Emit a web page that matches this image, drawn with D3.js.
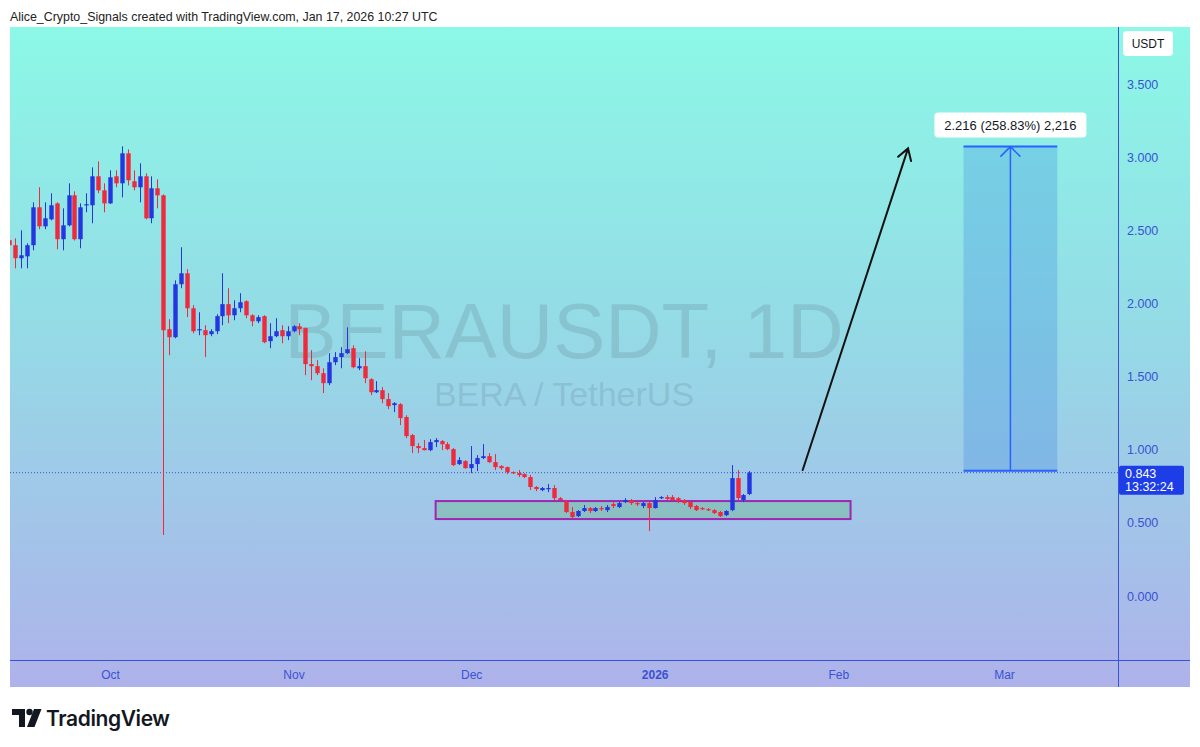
<!DOCTYPE html>
<html>
<head>
<meta charset="utf-8">
<script src="https://cdn.jsdelivr.net/npm/d3@7"></script>
<style>
  body { margin: 0; background: #fff; }
  svg { display: block; font-family: "Liberation Sans", Arial, sans-serif; }
</style>
</head>
<body>
<svg width="1200" height="747"></svg>
<script>
(function() {
  // daily candles, first one is 2025-09-14
  const firstDay = Date.UTC(2025, 8, 14);
  const opens = [
    2.432, 2.398, 2.309, 2.322, 2.398, 2.657, 2.527, 2.575, 2.684, 2.439, 2.534, 2.739, 2.439, 2.671, 2.671, 2.869, 2.773,
    2.684, 2.869, 2.821, 3.026, 2.835, 2.794, 2.869, 2.582, 2.787, 2.739, 1.824, 1.769, 2.131, 2.206, 1.967, 1.817,
    1.817, 1.790, 1.810, 1.913, 1.995, 1.919, 1.967, 2.015, 1.919, 1.878, 1.913, 1.742, 1.776, 1.817, 1.776,
    1.810, 1.844, 1.831, 1.585, 1.571, 1.523, 1.455, 1.598, 1.633, 1.660, 1.694, 1.557, 1.571, 1.482, 1.393,
    1.407, 1.346, 1.305, 1.311, 1.223, 1.100, 1.025, 1.011, 0.997, 1.052, 1.059, 1.038, 1.004, 0.902, 0.922,
    0.874, 0.902, 0.943, 0.956, 0.915, 0.888, 0.881, 0.847, 0.840, 0.833, 0.813, 0.745, 0.724, 0.731, 0.738,
    0.669, 0.649, 0.574, 0.546, 0.581, 0.601, 0.581, 0.601, 0.587, 0.628, 0.608, 0.642, 0.656, 0.635, 0.615, 0.635,
    0.601, 0.669, 0.676, 0.676, 0.669, 0.656, 0.642, 0.615, 0.601, 0.594, 0.587, 0.574, 0.553, 0.587, 0.806, 0.656, 0.697
  ];
  const highs = [
    2.466, 2.445, 2.500, 2.411, 2.691, 2.794, 2.691, 2.753, 2.691, 2.650, 2.821, 2.766, 2.684, 2.753, 2.930, 2.971, 2.821,
    2.910, 2.910, 3.074, 3.053, 2.910, 2.958, 2.889, 2.869, 2.848, 2.745, 1.892, 2.158, 2.384, 2.234, 1.988, 1.940,
    1.851, 1.824, 1.926, 2.206, 2.104, 2.022, 2.070, 2.022, 1.926, 1.919, 1.919, 1.865, 1.899, 1.851, 1.844,
    1.851, 1.865, 1.835, 1.680, 1.612, 1.557, 1.660, 1.667, 1.701, 1.837, 1.714, 1.626, 1.673, 1.489, 1.469,
    1.428, 1.387, 1.325, 1.318, 1.236, 1.107, 1.045, 1.066, 1.072, 1.079, 1.066, 1.052, 1.011, 0.949, 0.929,
    1.025, 0.963, 1.038, 0.977, 0.970, 0.895, 0.885, 0.852, 0.861, 0.840, 0.827, 0.751, 0.745, 0.765, 0.758,
    0.676, 0.656, 0.608, 0.587, 0.622, 0.608, 0.608, 0.615, 0.622, 0.642, 0.649, 0.669, 0.663, 0.649, 0.642, 0.642,
    0.676, 0.683, 0.690, 0.690, 0.676, 0.663, 0.649, 0.622, 0.608, 0.601, 0.594, 0.581, 0.587, 0.895, 0.861, 0.697, 0.854
  ];
  const lows = [
    2.384, 2.240, 2.240, 2.240, 2.363, 2.507, 2.507, 2.568, 2.370, 2.363, 2.527, 2.430, 2.377, 2.623, 2.548, 2.753, 2.623,
    2.680, 2.794, 2.725, 2.807, 2.773, 2.691, 2.575, 2.548, 2.650, 0.417, 1.646, 1.762, 2.104, 1.906, 1.796, 1.783,
    1.633, 1.776, 1.790, 1.851, 1.865, 1.885, 1.940, 1.899, 1.844, 1.865, 1.728, 1.694, 1.769, 1.728, 1.749,
    1.803, 1.783, 1.510, 1.475, 1.510, 1.387, 1.441, 1.578, 1.557, 1.655, 1.557, 1.544, 1.455, 1.373, 1.387,
    1.318, 1.277, 1.257, 1.168, 1.079, 0.977, 0.977, 0.995, 0.990, 1.018, 0.997, 0.997, 0.888, 0.895, 0.870,
    0.840, 0.854, 0.936, 0.910, 0.861, 0.861, 0.833, 0.835, 0.813, 0.806, 0.724, 0.717, 0.717, 0.710, 0.656,
    0.649, 0.567, 0.533, 0.540, 0.574, 0.567, 0.574, 0.581, 0.574, 0.601, 0.601, 0.635, 0.622, 0.615, 0.601, 0.444,
    0.598, 0.663, 0.656, 0.649, 0.635, 0.622, 0.594, 0.581, 0.587, 0.581, 0.560, 0.540, 0.546, 0.580, 0.656, 0.642, 0.690
  ];
  const closes = [
    2.398, 2.309, 2.329, 2.398, 2.657, 2.527, 2.582, 2.671, 2.439, 2.534, 2.739, 2.439, 2.657, 2.678, 2.869, 2.773, 2.684,
    2.862, 2.821, 3.026, 2.842, 2.794, 2.869, 2.582, 2.787, 2.739, 1.817, 1.769, 2.131, 2.206, 1.967, 1.810, 1.824,
    1.783, 1.810, 1.913, 1.995, 1.919, 1.967, 2.008, 1.919, 1.878, 1.906, 1.735, 1.776, 1.810, 1.776, 1.810,
    1.844, 1.824, 1.585, 1.571, 1.523, 1.455, 1.598, 1.633, 1.660, 1.687, 1.564, 1.571, 1.489, 1.393, 1.407,
    1.346, 1.298, 1.318, 1.216, 1.093, 1.025, 1.011, 0.997, 1.052, 1.066, 1.038, 1.004, 0.895, 0.929, 0.874,
    0.902, 0.943, 0.956, 0.915, 0.881, 0.874, 0.847, 0.840, 0.827, 0.813, 0.745, 0.731, 0.738, 0.738, 0.669,
    0.656, 0.574, 0.540, 0.581, 0.601, 0.581, 0.601, 0.594, 0.608, 0.615, 0.635, 0.656, 0.635, 0.628, 0.635, 0.601,
    0.656, 0.676, 0.663, 0.656, 0.649, 0.635, 0.608, 0.587, 0.594, 0.587, 0.567, 0.546, 0.581, 0.806, 0.669, 0.690, 0.843
  ];

  const priceTicks = [0, 0.5, 1, 1.5, 2, 2.5, 3, 3.5];
  const monthTicks = ["2025-10-01", "2025-11-01", "2025-12-01", "2026-01-01", "2026-02-01", "2026-03-01"];
  const lastPrice = 0.843;
  const countdown = "13:32:24";

  // drawings
  const zoneBox = { from: "2025-11-25T00:00Z", to: "2026-02-03T02:00Z", low: 0.526, high: 0.649 };
  const arrowFrom = ["2026-01-26T00:00Z", 0.861];
  const arrowTo = ["2026-02-12T19:00Z", 3.060];
  const range = { from: "2026-02-22T04:00Z", to: "2026-03-10T00:00Z", mid: "2026-03-02T02:00Z", low: 0.856, high: 3.072 };
  const rangeLabel = "2.216 (258.83%) 2,216";

  const candles = opens.map((o, i) => ({
    date: new Date(firstDay + i * 864e5),
    open: o, high: highs[i], low: lows[i], close: closes[i]
  }));

  const left = 10, right = 1118, top = 27, bottom = 660, outerRight = 1190, outerBottom = 687;
  const blue = "#2336e0", red = "#ee2a3c", axisBlue = "#3a52d4";

  const x = d3.scaleUtc()
    .domain([new Date("2025-10-01T00:00Z"), new Date("2026-03-01T00:00Z")])
    .range([110, 1004]);
  const y = d3.scaleLinear().domain([0, 3.5]).range([596, 84]);

  const svg = d3.select("svg");
  const defs = svg.append("defs");

  const grad = defs.append("linearGradient")
    .attr("id", "bg").attr("x1", 0).attr("y1", 0).attr("x2", 0).attr("y2", 1);
  grad.append("stop").attr("offset", "0%").attr("stop-color", "#8cf8e6");
  grad.append("stop").attr("offset", "45%").attr("stop-color", "#94dbe6");
  grad.append("stop").attr("offset", "100%").attr("stop-color", "#aeb2ea");

  defs.append("clipPath").attr("id", "plot")
    .append("rect").attr("x", left).attr("y", top)
    .attr("width", right - left).attr("height", bottom - top);

  svg.append("text")
    .attr("x", 10).attr("y", 21)
    .attr("font-size", 12.4).attr("fill", "#222")
    .text("Alice_Crypto_Signals created with TradingView.com, Jan 17, 2026 10:27 UTC");

  svg.append("rect")
    .attr("x", left).attr("y", top)
    .attr("width", outerRight - left).attr("height", outerBottom - top)
    .attr("fill", "url(#bg)");

  // watermark
  svg.append("text")
    .attr("x", 564).attr("y", 358)
    .attr("text-anchor", "middle")
    .attr("font-size", 78)
    .attr("fill", "#5f7f8c").attr("fill-opacity", 0.24)
    .text("BERAUSDT, 1D");
  svg.append("text")
    .attr("x", 564).attr("y", 406)
    .attr("text-anchor", "middle")
    .attr("font-size", 34)
    .attr("fill", "#5f7f8c").attr("fill-opacity", 0.24)
    .text("BERA / TetherUS");

  const plot = svg.append("g").attr("clip-path", "url(#plot)");

  // last price dotted line
  plot.append("line")
    .attr("x1", left).attr("x2", right)
    .attr("y1", y(lastPrice)).attr("y2", y(lastPrice))
    .attr("stroke", axisBlue).attr("stroke-width", 1)
    .attr("stroke-dasharray", "1,2");

  // support zone
  plot.append("rect")
    .attr("x", x(new Date(zoneBox.from)))
    .attr("y", y(zoneBox.high))
    .attr("width", x(new Date(zoneBox.to)) - x(new Date(zoneBox.from)))
    .attr("height", y(zoneBox.low) - y(zoneBox.high))
    .attr("fill", "#4caf50").attr("fill-opacity", 0.25)
    .attr("stroke", "#9c27b0").attr("stroke-width", 2);

  const bodyW = 4.4;
  const candle = plot.append("g").selectAll("g")
    .data(candles)
    .enter()
    .append("g")
    .attr("fill", d => d.close >= d.open ? blue : red)
    .attr("stroke", d => d.close >= d.open ? blue : red);

  candle.append("line")
    .attr("x1", d => Math.round(x(d.date)) + 0.5)
    .attr("x2", d => Math.round(x(d.date)) + 0.5)
    .attr("y1", d => y(d.high))
    .attr("y2", d => y(d.low))
    .attr("stroke-width", 1);

  candle.append("rect")
    .attr("x", d => Math.round(x(d.date)) + 0.5 - bodyW / 2)
    .attr("y", d => y(Math.max(d.open, d.close)))
    .attr("width", bodyW)
    .attr("height", d => Math.max(1.2, Math.abs(y(d.open) - y(d.close))))
    .attr("stroke", "none");

  // projection arrow
  const ax1 = x(new Date(arrowFrom[0])), ay1 = y(arrowFrom[1]);
  const ax2 = x(new Date(arrowTo[0])), ay2 = y(arrowTo[1]);
  const ang = Math.atan2(ay2 - ay1, ax2 - ax1);
  const head = 13;
  plot.append("path")
    .attr("d", `M${ax1},${ay1}L${ax2},${ay2}` +
      `M${ax2 - head * Math.cos(ang - 0.55)},${ay2 - head * Math.sin(ang - 0.55)}L${ax2},${ay2}` +
      `L${ax2 - head * Math.cos(ang + 0.55)},${ay2 - head * Math.sin(ang + 0.55)}`)
    .attr("fill", "none").attr("stroke", "#111").attr("stroke-width", 2)
    .attr("stroke-linecap", "round");

  // price range tool
  const rx1 = x(new Date(range.from)), rx2 = x(new Date(range.to)), rxm = x(new Date(range.mid));
  const ryTop = y(range.high), ryBot = y(range.low);
  plot.append("rect")
    .attr("x", rx1).attr("y", ryTop)
    .attr("width", rx2 - rx1).attr("height", ryBot - ryTop)
    .attr("fill", "#2a7de1").attr("fill-opacity", 0.25);
  plot.append("line")
    .attr("x1", rx1).attr("x2", rx2).attr("y1", ryTop).attr("y2", ryTop)
    .attr("stroke", "#2962ff").attr("stroke-width", 2);
  plot.append("line")
    .attr("x1", rx1).attr("x2", rx2).attr("y1", ryBot).attr("y2", ryBot)
    .attr("stroke", "#2962ff").attr("stroke-width", 2);
  plot.append("path")
    .attr("d", `M${rxm},${ryBot}L${rxm},${ryTop}M${rxm - 10},${ryTop + 10}L${rxm},${ryTop}L${rxm + 10},${ryTop + 10}`)
    .attr("fill", "none").attr("stroke", "#2962ff").attr("stroke-width", 1.5);

  plot.append("rect")
    .attr("x", rxm - 76).attr("y", ryTop - 34)
    .attr("width", 152).attr("height", 25).attr("rx", 4)
    .attr("fill", "#fff");
  plot.append("text")
    .attr("x", rxm).attr("y", ryTop - 17)
    .attr("text-anchor", "middle")
    .attr("font-size", 13).attr("fill", "#131722")
    .text(rangeLabel);

  // axes
  svg.append("line")
    .attr("x1", right + 0.5).attr("x2", right + 0.5)
    .attr("y1", top).attr("y2", outerBottom)
    .attr("stroke", axisBlue).attr("stroke-width", 1);
  svg.append("line")
    .attr("x1", left).attr("x2", outerRight)
    .attr("y1", bottom + 0.5).attr("y2", bottom + 0.5)
    .attr("stroke", axisBlue).attr("stroke-width", 1);

  const yAxis = svg.append("g")
    .attr("transform", `translate(${right},0)`)
    .call(d3.axisRight(y).tickValues(priceTicks).tickSize(0).tickPadding(9).tickFormat(d3.format(".3f")));
  yAxis.select(".domain").remove();
  yAxis.selectAll("text")
    .attr("font-size", 12.5).attr("fill", axisBlue)
    .attr("font-family", "'Liberation Sans', Arial, sans-serif");

  const xAxis = svg.append("g")
    .attr("transform", `translate(0,${bottom})`)
    .call(d3.axisBottom(x)
      .tickValues(monthTicks.map(d => new Date(d + "T00:00Z")))
      .tickSize(0).tickPadding(10)
      .tickFormat(d => d.getUTCMonth() === 0 ? d3.utcFormat("%Y")(d) : d3.utcFormat("%b")(d)));
  xAxis.select(".domain").remove();
  xAxis.selectAll("text")
    .attr("font-size", 12).attr("fill", axisBlue)
    .attr("font-family", "'Liberation Sans', Arial, sans-serif")
    .attr("font-weight", d => d.getUTCMonth() === 0 ? "bold" : "normal");

  // currency badge
  svg.append("rect")
    .attr("x", 1123).attr("y", 31).attr("width", 50).attr("height", 25).attr("rx", 4)
    .attr("fill", "#fff");
  svg.append("text")
    .attr("x", 1148).attr("y", 48).attr("text-anchor", "middle")
    .attr("font-size", 12).attr("fill", "#131722")
    .text("USDT");

  // last price badge
  svg.append("rect")
    .attr("x", right + 1).attr("y", y(lastPrice) - 7)
    .attr("width", 65).attr("height", 29).attr("rx", 2)
    .attr("fill", "#1d3de6");
  svg.append("text")
    .attr("x", right + 7).attr("y", y(lastPrice) + 5)
    .attr("font-size", 12.5).attr("fill", "#fff")
    .text(d3.format(".3f")(lastPrice));
  svg.append("text")
    .attr("x", right + 7).attr("y", y(lastPrice) + 18)
    .attr("font-size", 12.5).attr("fill", "#fff")
    .text(countdown);

  // TradingView logo
  const logo = svg.append("g").attr("fill", "#131722");
  logo.append("path").attr("d", "M12,709H25V727H19V715H12Z");
  logo.append("circle").attr("cx", 29.5).attr("cy", 712).attr("r", 3.2);
  logo.append("path").attr("d", "M34,709H41.5L34.5,727H27Z");
  logo.append("text")
    .attr("x", 46).attr("y", 726)
    .attr("font-size", 21).attr("font-weight", 600)
    .attr("font-family", "Inter, 'Liberation Sans', sans-serif")
    .attr("letter-spacing", -0.4)
    .text("TradingView");
})();
</script>
</body>
</html>
